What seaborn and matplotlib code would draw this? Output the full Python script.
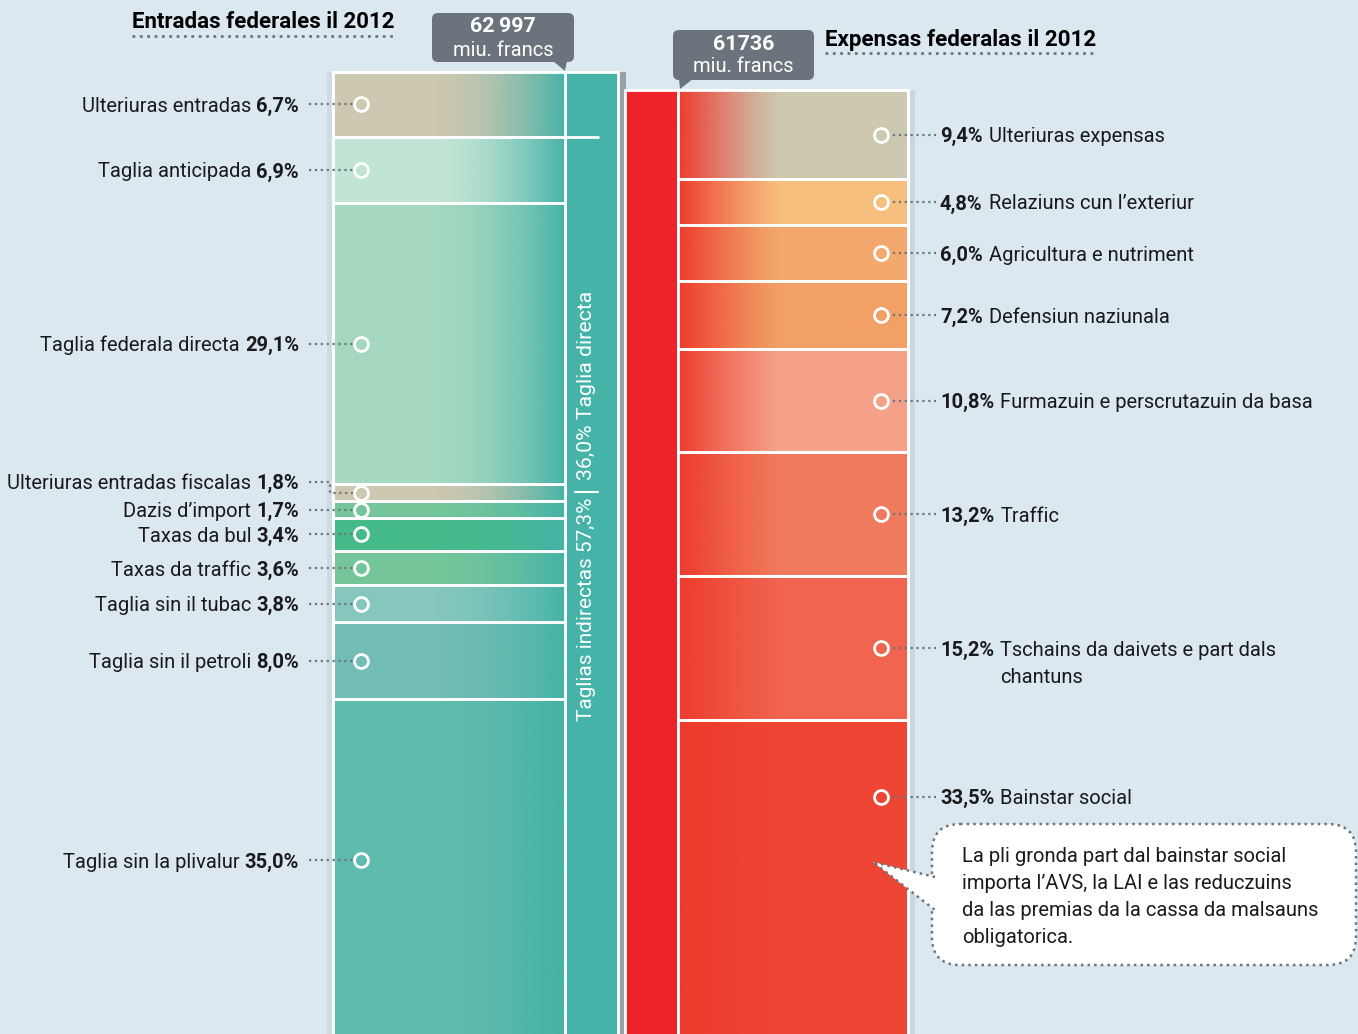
import numpy as np
import matplotlib
matplotlib.use("Agg")
import matplotlib.pyplot as plt
from matplotlib.patches import FancyBboxPatch, Polygon
from matplotlib.colors import to_rgb
import seaborn as sns

# data
income_labels = ["Ulteriuras entradas", "Taglia anticipada", "Taglia federala directa",
                 "Ulteriuras entradas fiscalas", "Dazis d\u2019import", "Taxas da bul",
                 "Taxas da traffic", "Taglia sin il tubac", "Taglia sin il petroli",
                 "Taglia sin la plivalur"]
income_pct = [6.7, 6.9, 29.1, 1.8, 1.7, 3.4, 3.6, 3.8, 8.0, 35.0]
income_colors = ["#cdc8b0", "#c2e4d4", "#a6d8c0", "#cdc8b0", "#74c69a",
                 "#45bb8a", "#74c69a", "#85c7bd", "#72bdb5", "#5fbbae"]
income_total = 62997

expense_labels = ["Ulteriuras expensas", "Relaziuns cun l\u2019exteriur",
                  "Agricultura e nutriment", "Defensiun naziunala",
                  "Furmazuin e perscrutazuin da basa", "Traffic",
                  "Tschains da daivets e part dals\nchantuns", "Bainstar social"]
expense_pct = [9.4, 4.8, 6.0, 7.2, 10.8, 13.2, 15.2, 33.5]
expense_colors = ["#cdc9b1", "#f6bf7e", "#f3a96d", "#f2a066", "#f5a18a",
                  "#f07a5d", "#f06450", "#ef4535"]
expense_total = 61736

group_labels = ["36,0% Taglia directa", "Taglias indirectas 57,3%"]
group_split = 42.7
note_lines = ["La pli gronda part dal bainstar social",
              "importa l\u2019AVS, la LAI e las reduczuins",
              "da las premias da la cassa da malsauns",
              "obligatorica."]

sns.set_theme(style="white")
plt.rcParams['font.family'] = ['Roboto', 'DejaVu Sans']

BG = "#dbe8f0"
TEAL = "#45b3a8"
RED = "#ee2229"
GREY = "#6b737c"
DOT = "#6d757c"
INK = "#1a1a1a"

W, H = 1358, 1034
PX_PCT = 9.65   # pixels per percent of income
TOP = 72

fig = plt.figure(figsize=(W / 100, H / 100), dpi=100)
fig.patch.set_facecolor(BG)
bx = fig.add_axes([0, 0, 1, 1], zorder=1)
bx.set_xlim(0, W)
ylim = ((H - TOP) / PX_PCT, -TOP / PX_PCT)
bx.set_ylim(*ylim)
bx.axis('off')
ax = fig.add_axes([0, 0, 1, 1], zorder=2)
ax.set_xlim(0, W)
ax.set_ylim(H, 0)
ax.axis('off')
for a in (ax, bx):
    a.patch.set_alpha(0)

renderer = fig.canvas.get_renderer()
inv = bx.transData.inverted()


def fit(t, size_px, vertical=False):
    bb = t.get_window_extent(renderer)
    cur = bb.height if vertical else bb.width
    t.set_fontsize(t.get_fontsize() * size_px / cur)
    return t


# base label size from the width of one reference label
probe = ax.text(0, 0, "Ulteriuras entradas 6,7%", size=10)
FS = fit(probe, 216).get_fontsize()
probe.remove()

inc = np.array(income_pct)
inc_bottom = np.concatenate([[0], np.cumsum(inc)[:-1]])
ratio = expense_total / income_total
exp = np.array(expense_pct) * ratio
exp_top = inc.sum() - exp.sum()
exp_bottom = exp_top + np.concatenate([[0], np.cumsum(exp)[:-1]])


def gradient(patch, color, ramp):
    f = np.linspace(0, 1, 512)
    img = np.zeros((2, 512, 4))
    img[..., :3] = to_rgb(color)
    img[..., 3] = ramp(f)
    x0, y0 = patch.get_x(), patch.get_y()
    im = bx.imshow(img, extent=(x0, x0 + patch.get_width(), y0 + patch.get_height(), y0),
                   aspect='auto', interpolation='bilinear', zorder=patch.get_zorder() + 0.1)
    im.set_clip_path(patch)


# shadows
bx.bar(621, inc.sum(), bottom=0, width=10, color="#98a1a7", edgecolor='none', linewidth=0, zorder=1)
bx.bar(911, exp.sum(), bottom=exp_top, width=7, color="#cbd7df", edgecolor='none', linewidth=0, zorder=1)
bx.bar(330, inc.sum(), bottom=0, width=7, color="#cfdbe3", edgecolor='none', linewidth=0, zorder=1)

# left bar
bx.bar(591.5, inc.sum(), bottom=0, width=53, color=TEAL,
       edgecolor="white", linewidth=2, zorder=2)
left = bx.bar(449, inc, bottom=inc_bottom, width=232, color=income_colors,
              edgecolor="white", linewidth=2, zorder=3)
for p in left:
    gradient(p, TEAL, lambda f: np.clip((f - 0.42) / 0.58, 0, 1) ** 1.8)
    bx.bar(p.get_x() + p.get_width() / 2, p.get_height(), bottom=p.get_y(),
           width=p.get_width(), fill=False, edgecolor="white", linewidth=2, zorder=4)

# group separators in side column
bx.plot([565, 598], [inc[0], inc[0]], color="white", lw=2, zorder=5)
bx.plot([575, 598], [group_split + 0.8, group_split + 0.8], color="white", lw=1.5, zorder=5)
g1 = bx.text(586, group_split - 0.4, group_labels[0], rotation=90, ha='center', va='bottom',
             color="white", size=FS, zorder=6)
g2 = bx.text(586, group_split + 1.4, group_labels[1], rotation=90, ha='center', va='top',
             color="white", size=FS, zorder=6)
fit(g1, 190, vertical=True)
fit(g2, 223, vertical=True)

# right bar
bx.bar(651.5, exp.sum(), bottom=exp_top, width=53, color=RED,
       edgecolor="white", linewidth=2, zorder=2)
right = bx.bar(793, exp, bottom=exp_bottom, width=230, color=expense_colors,
               edgecolor="white", linewidth=2, zorder=3)
for p in right:
    gradient(p, "#ee3a2c", lambda f: np.clip(1 - f / 0.45, 0, 1) ** 1.2)
    bx.bar(p.get_x() + p.get_width() / 2, p.get_height(), bottom=p.get_y(),
           width=p.get_width(), fill=False, edgecolor="white", linewidth=2, zorder=4)

bx.set_xlim(0, W)
bx.set_ylim(*ylim)
fig.canvas.draw()

# left labels
inc_mid = inc_bottom + inc / 2
label_shift = {3: -11 / PX_PCT}       # label only
mark_shift = {9: -8 / PX_PCT}         # label and marker
for i, (name, v) in enumerate(zip(income_labels, income_pct)):
    ym = inc_mid[i] + mark_shift.get(i, 0)
    yl = ym + label_shift.get(i, 0)
    t = bx.text(299, yl, f"{v:.1f}%".replace(".", ","), ha='right', va='center_baseline',
                weight='bold', size=FS, color=INK, zorder=6)
    bb = t.get_window_extent(renderer)
    x0 = inv.transform((bb.x0, 0))[0]
    bx.text(x0 - 5, yl, name, ha='right', va='center_baseline', size=FS,
            color=INK, zorder=6)
    if i in label_shift:
        bx.plot([309, 330, 330, 356], [yl, yl, ym, ym], ls=':', color=DOT, lw=1.6, zorder=6)
    else:
        bx.plot([309, 356], [yl, yl], ls=':', color=DOT, lw=1.6, zorder=6)
    bx.plot([361], [ym], 'o', ms=10, mfc='none', mec='white', mew=2, zorder=7)

# right labels
exp_mid = exp_bottom + exp / 2
exp_shift = {7: -82 / PX_PCT}
for i, (name, v) in enumerate(zip(expense_labels, expense_pct)):
    ym = exp_mid[i] + exp_shift.get(i, 0)
    t = bx.text(940, ym, f"{v:.1f}%".replace(".", ","), ha='left', va='center_baseline',
                weight='bold', size=FS, color=INK, zorder=6)
    bb = t.get_window_extent(renderer)
    x1 = inv.transform((bb.x1, 0))[0]
    for k, line in enumerate(name.split("\n")):
        bx.text(x1 + 6, ym + k * 27 / PX_PCT, line, ha='left', va='center_baseline',
                size=FS, color=INK, zorder=6)
    bx.plot([887, 936], [ym, ym], ls=':', color=DOT, lw=1.6, zorder=6)
    bx.plot([881], [ym], 'o', ms=10, mfc='none', mec='white', mew=2, zorder=7)

# titles
t1 = ax.text(132, 22, "Entradas federales il 2012", ha='left', va='center',
             weight='bold', size=15, color="black")
fit(t1, 264)
ax.plot([132, 396], [36, 36], ls=':', color=DOT, lw=2)
t2 = ax.text(825, 40, "Expensas federalas il 2012", ha='left', va='center',
             weight='bold', size=15, color="black")
fit(t2, 272)
ax.plot([825, 1097], [53, 53], ls=':', color=DOT, lw=2)

# totals callouts
for (x0, y0, w, h), tip, total in [((432, 13, 142, 49), [(553, 61), (567, 61), (565, 71)], "62\u2009997"),
                                   ((673, 30, 141, 50), [(679, 79), (693, 79), (680, 89)], "61736")]:
    ax.add_patch(FancyBboxPatch((x0, y0), w, h, boxstyle="round,pad=0,rounding_size=6",
                                fc=GREY, ec='none'))
    ax.add_patch(Polygon(tip, closed=True, fc=GREY, ec='none'))
    ax.text(x0 + w / 2, y0 + 14, total, ha='center', va='center', color='white',
            weight='bold', size=FS + 1)
    ax.text(x0 + w / 2, y0 + 37, "miu. francs", ha='center', va='center', color='white',
            size=FS)

# note box
ax.add_patch(FancyBboxPatch((932, 824), 424, 141, boxstyle="round,pad=0,rounding_size=28",
                            fc='white', ec=DOT, ls=':', lw=1.8))
ax.add_patch(Polygon([(873, 862), (935, 877), (935, 910)], closed=True, fc='white', ec='none'))
ax.plot([935, 873, 935], [877, 862, 910], ls=':', color=DOT, lw=1.8)
for k, line in enumerate(note_lines):
    ax.text(962, 855 + k * 26.7, line, ha='left', va='center_baseline', size=FS,
            color=INK)

fig.savefig("out.png", dpi=100, facecolor=BG)
